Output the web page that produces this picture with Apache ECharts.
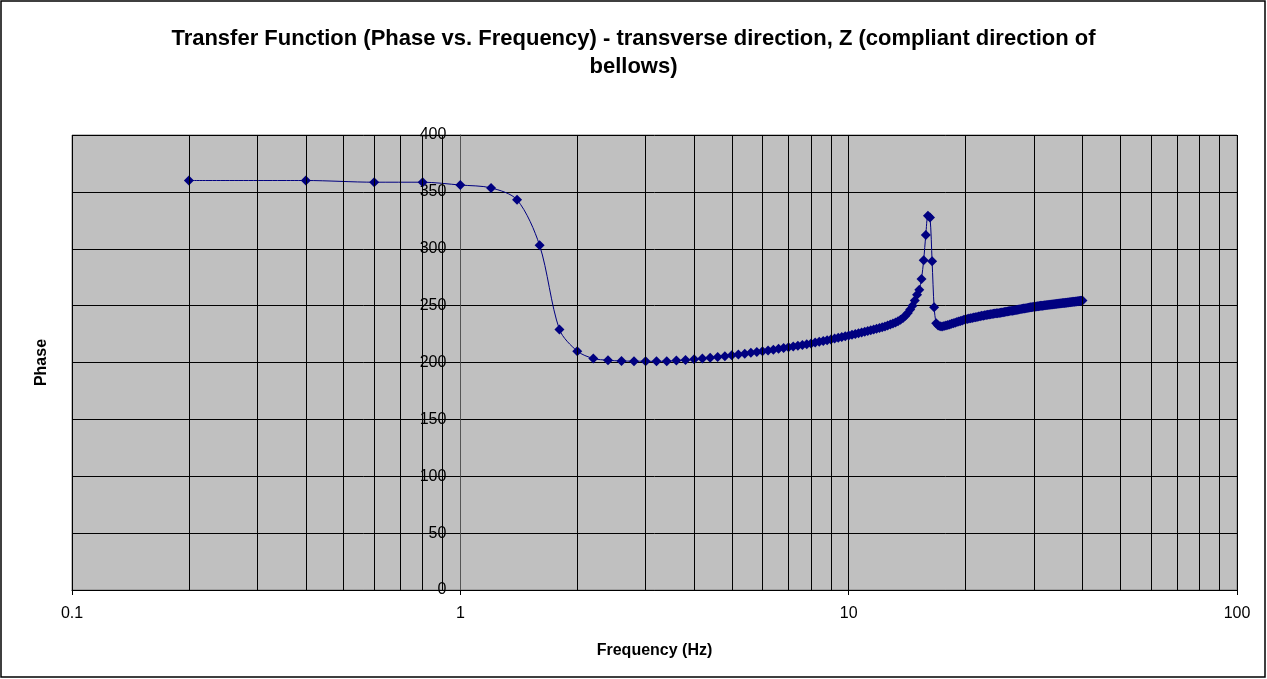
<!DOCTYPE html>
<html>
<head>
    <meta charset="utf-8">
    <title>Transfer Function - Phase vs. Frequency</title>
    <script src="https://cdn.jsdelivr.net/npm/echarts@6/dist/echarts.min.js"></script>
    <style>
        * { margin: 0; padding: 0 }
        #main { width: 1267px; height: 679px; background: #fff; }
    </style>
</head>
<body>
    <div id="main"></div>
    <script type="text/javascript">
        // frequency (Hz), one reading every 0.2 Hz
        var freq = [
            0.2, 0.4, 0.6, 0.8, 1.0, 1.2, 1.4, 1.6, 1.8, 2.0,
            2.2, 2.4, 2.6, 2.8, 3.0, 3.2, 3.4, 3.6, 3.8, 4.0,
            4.2, 4.4, 4.6, 4.8, 5.0, 5.2, 5.4, 5.6, 5.8, 6.0,
            6.2, 6.4, 6.6, 6.8, 7.0, 7.2, 7.4, 7.6, 7.8, 8.0,
            8.2, 8.4, 8.6, 8.8, 9.0, 9.2, 9.4, 9.6, 9.8, 10.0,
            10.2, 10.4, 10.6, 10.8, 11.0, 11.2, 11.4, 11.6, 11.8, 12.0,
            12.2, 12.4, 12.6, 12.8, 13.0, 13.2, 13.4, 13.6, 13.8, 14.0,
            14.2, 14.4, 14.6, 14.8, 15.0, 15.2, 15.4, 15.6, 15.8, 16.0,
            16.2, 16.4, 16.6, 16.8, 17.0, 17.2, 17.4, 17.6, 17.8, 18.0,
            18.2, 18.4, 18.6, 18.8, 19.0, 19.2, 19.4, 19.6, 19.8, 20.0,
            20.2, 20.4, 20.6, 20.8, 21.0, 21.2, 21.4, 21.6, 21.8, 22.0,
            22.2, 22.4, 22.6, 22.8, 23.0, 23.2, 23.4, 23.6, 23.8, 24.0,
            24.2, 24.4, 24.6, 24.8, 25.0, 25.2, 25.4, 25.6, 25.8, 26.0,
            26.2, 26.4, 26.6, 26.8, 27.0, 27.2, 27.4, 27.6, 27.8, 28.0,
            28.2, 28.4, 28.6, 28.8, 29.0, 29.2, 29.4, 29.6, 29.8, 30.0,
            30.2, 30.4, 30.6, 30.8, 31.0, 31.2, 31.4, 31.6, 31.8, 32.0,
            32.2, 32.4, 32.6, 32.8, 33.0, 33.2, 33.4, 33.6, 33.8, 34.0,
            34.2, 34.4, 34.6, 34.8, 35.0, 35.2, 35.4, 35.6, 35.8, 36.0,
            36.2, 36.4, 36.6, 36.8, 37.0, 37.2, 37.4, 37.6, 37.8, 38.0,
            38.2, 38.4, 38.6, 38.8, 39.0, 39.2, 39.4, 39.6, 39.8, 40.0
        ];

        // phase (deg)
        var phase = [
            360, 360, 358.5, 358.5, 356, 353.5, 343, 303, 229, 210,
            203.5, 202, 201.3, 201.2, 201.1, 201, 201.2, 201.7, 202.2, 202.8,
            203.5, 204.2, 204.9, 205.6, 206.4, 207.1, 207.8, 208.5, 209.2, 209.9,
            210.6, 211.3, 212, 212.7, 213.4, 214, 214.7, 215.4, 216.1, 216.8,
            217.5, 218.2, 218.9, 219.6, 220.3, 221, 221.7, 222.4, 223.1, 223.8,
            224.5, 225.1, 225.8, 226.4, 227.1, 227.7, 228.4, 229, 229.7, 230.3,
            231, 231.7, 232.5, 233.3, 234.2, 235.2, 236.3, 237.6, 239.2, 241.2,
            243.6, 246.5, 250, 254.5, 259.5, 264, 273.5, 290, 312, 329,
            327.5, 289, 248.5, 234.5, 232.5, 231.8, 231.6, 232, 232.5, 233,
            233.5, 234, 234.5, 235, 235.5, 236, 236.5, 237, 237.5, 238,
            238.3, 238.6, 238.9, 239.2, 239.5, 239.8, 240.1, 240.4, 240.7, 241,
            241.2, 241.5, 241.7, 241.9, 242.2, 242.4, 242.6, 242.8, 243, 243.2,
            243.4, 243.6, 243.8, 244, 244.2, 244.4, 244.6, 244.8, 245, 245.2,
            245.4, 245.6, 245.8, 246, 246.2, 246.4, 246.6, 246.8, 247, 247.2,
            247.4, 247.5, 247.7, 247.9, 248.1, 248.3, 248.5, 248.6, 248.8, 249,
            249.1, 249.3, 249.4, 249.5, 249.7, 249.8, 249.9, 250, 250.2, 250.3,
            250.4, 250.5, 250.6, 250.7, 250.8, 250.9, 251, 251.1, 251.2, 251.4,
            251.5, 251.6, 251.7, 251.8, 251.9, 252, 252.1, 252.2, 252.3, 252.4,
            252.5, 252.6, 252.7, 252.8, 252.9, 253, 253.1, 253.2, 253.3, 253.4,
            253.5, 253.6, 253.7, 253.8, 253.9, 254, 254.1, 254.2, 254.3, 254.4
        ];

        // minor vertical grid lines of the log axis (2..9 in each decade)
        var minorGrid = [
            0.2, 0.3, 0.4, 0.5, 0.6, 0.7, 0.8, 0.9,
            2, 3, 4, 5, 6, 7, 8, 9,
            20, 30, 40, 50, 60, 70, 80, 90
        ];

        var FONT = '"Liberation Sans", Arial, sans-serif';
        var gridLeft = 72, gridRight = 30;
        var plotW = 1267 - gridLeft - gridRight;
        // y axis crosses at x = 1 (one decade in from the left of three)
        var yOffset = -plotW / 3;

        var myChart = echarts.init(document.getElementById('main'));

        var option = {
            animation: false,
            backgroundColor: '#fff',
            title: {
                text: 'Transfer Function (Phase vs. Frequency) - transverse direction, Z (compliant direction of\nbellows)',
                left: 'center',
                top: 20,
                textStyle: {
                    fontFamily: FONT,
                    fontSize: 22,
                    fontWeight: 'bold',
                    color: '#000',
                    lineHeight: 28
                }
            },
            graphic: [{
                type: 'rect',
                shape: { x: 1, y: 1, width: 1264, height: 676 },
                style: { fill: null, stroke: '#000', lineWidth: 1.5 },
                silent: true
            }],
            grid: {
                left: gridLeft,
                right: gridRight,
                top: 135,
                bottom: 89,
                show: true,
                backgroundColor: '#c0c0c0',
                borderColor: '#808080',
                borderWidth: 1
            },
            xAxis: {
                type: 'log',
                logBase: 10,
                min: 0.1,
                max: 100,
                name: 'Frequency (Hz)',
                nameLocation: 'middle',
                nameGap: 53,
                nameTextStyle: { fontFamily: FONT, fontSize: 16, fontWeight: 'bold', color: '#000' },
                axisLine: { lineStyle: { color: '#000', width: 1 } },
                axisTick: { show: true, length: 5, lineStyle: { color: '#000' } },
                axisLabel: {
                    fontFamily: FONT, fontSize: 16, color: '#000', margin: 16,
                    formatter: function (v) { return String(+v.toPrecision(3)); }
                },
                splitLine: { show: true, lineStyle: { color: '#000', width: 1 } }
            },
            yAxis: {
                type: 'value',
                min: 0,
                max: 400,
                interval: 50,
                offset: yOffset,
                name: 'Phase',
                nameLocation: 'middle',
                nameGap: -yOffset + 22,
                nameRotate: 90,
                nameTextStyle: { fontFamily: FONT, fontSize: 16, fontWeight: 'bold', color: '#000' },
                axisLine: { show: true, lineStyle: { color: '#555', width: 1 } },
                axisTick: { show: true, length: 5, lineStyle: { color: '#000' } },
                axisLabel: { fontFamily: FONT, fontSize: 16, color: '#000', margin: 14 },
                splitLine: { show: true, lineStyle: { color: '#000', width: 1 } }
            },
            series: [{
                // only carries the minor grid lines, kept under the curve
                type: 'line',
                z: 1,
                data: [],
                silent: true,
                markLine: {
                    silent: true,
                    symbol: ['none', 'none'],
                    label: { show: false },
                    lineStyle: { color: '#000', width: 1, type: 'solid' },
                    emphasis: { disabled: true },
                    data: minorGrid.map(function (v) { return { xAxis: v }; })
                }
            }, {
                name: 'Phase',
                type: 'line',
                z: 3,
                data: freq.map(function (f, i) { return [f, phase[i]]; }),
                smooth: 0.3,
                showAllSymbol: true,
                symbol: 'diamond',
                symbolSize: 10,
                itemStyle: { color: '#000080' },
                lineStyle: { color: '#000080', width: 1 }
            }]
        };

        myChart.setOption(option);
    </script>
</body>
</html>
